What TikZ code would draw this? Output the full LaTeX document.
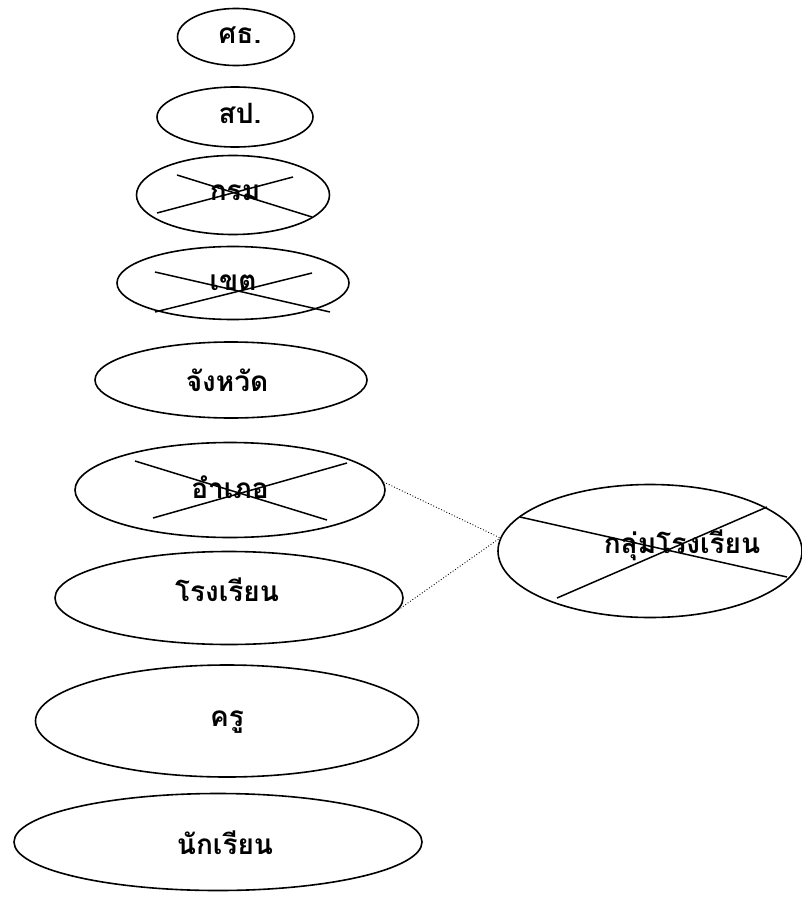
\documentclass[tikz,border=0pt]{standalone}
\usepackage{fontspec}
\newfontfamily\thaifont[Script=Thai]{Loma}
\usetikzlibrary{shapes.geometric}
\tikzset{
  oval/.style={ellipse, draw, line width=1.6pt, inner sep=0pt},
  lbl/.style={font=\thaifont\bfseries\fontsize{28}{32}\selectfont, inner sep=0pt},
  cross/.style={line width=1.5pt},
  link/.style={line width=0.9pt, dotted}
}
\begin{document}
\begin{tikzpicture}[x=1pt,y=-1pt]
\useasboundingbox (0,0) rectangle (802,904);
% ellipses
\node[oval, minimum width=117pt, minimum height=57pt] (e1) at (236,37) {};
\node[oval, minimum width=156pt, minimum height=60pt] (e2) at (235,117) {};
\node[oval, minimum width=193pt, minimum height=79pt] (e3) at (233,195) {};
\node[oval, minimum width=232pt, minimum height=73pt] (e4) at (233,283) {};
\node[oval, minimum width=272pt, minimum height=76pt] (e5) at (231,380) {};
\node[oval, minimum width=310pt, minimum height=95pt] (e6) at (230,490) {};
\node[oval, minimum width=348pt, minimum height=93pt] (e7) at (229,598) {};
\node[oval, minimum width=383pt, minimum height=112pt] (e8) at (227,721) {};
\node[oval, minimum width=408pt, minimum height=97pt] (e9) at (218,842) {};
\node[oval, minimum width=304pt, minimum height=133pt] (g) at (650,551) {};
% labels
\node[lbl] (t1) at (240,35) {ศธ.};
\node[lbl] (t2) at (240,113) {สป.};
\node[lbl] (t3) at (235,193) {กรม};
\node[lbl] (t4) at (233,283) {เขต};
\node[lbl] (t5) at (227,380) {จังหวัด};
\node[lbl] (t6) at (230,487) {อำเภอ};
\node[lbl] (t7) at (227,590) {โรงเรียน};
\node[lbl] (t8) at (227,722) {ครู};
\node[lbl] (t9) at (225,843) {นักเรียน};
\node[lbl] (tg) at (682,545) {กลุ่มโรงเรียน};
% crosses
\draw[cross] (177,175) -- (312,217);
\draw[cross] (157,213) -- (293,177);
\draw[cross] (155,272) -- (330,312);
\draw[cross] (155,312) -- (312,273);
\draw[cross] (135,461) -- (327,520);
\draw[cross] (153,518) -- (347,463);
\draw[cross] (520,517) -- (787,577);
\draw[cross] (557,598) -- (767,507);
% dotted links
\draw[link] (e6.3) -- (g.175);
\draw[link] (e7.-4) -- (g.175);
\end{tikzpicture}
\end{document}
